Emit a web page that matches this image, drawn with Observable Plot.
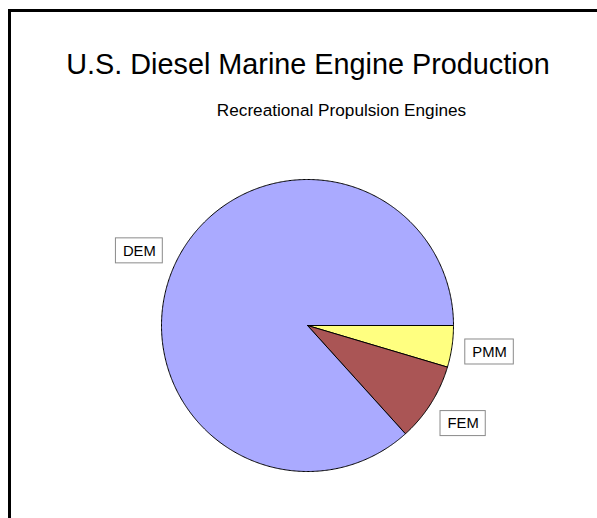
<!DOCTYPE html>
<html><head><meta charset="utf-8">
<script src="https://cdn.jsdelivr.net/npm/d3@7"></script>
<script src="https://cdn.jsdelivr.net/npm/@observablehq/plot@0.6"></script>
<style>
html,body{margin:0;padding:0;background:#fff;}
#wrap{position:relative;width:597px;height:518px;overflow:hidden;}
#border{position:absolute;left:8px;top:9px;width:700px;height:700px;border-top:3px solid #000;border-left:3px solid #000;}
#chart{position:absolute;left:0;top:0;}
</style></head><body>
<div id="wrap"><div id="border"></div><div id="chart"></div></div>
<script>
const title = "U.S. Diesel Marine Engine Production";
const subtitle = "Recreational Propulsion Engines";
const categories = ["PMM", "FEM", "DEM"];
const shares = [4.6, 8.7, 86.7];
const colors = ["#FFFF80", "#AA5555", "#AAAAFF"];

const FONT = "Arial, 'Liberation Sans', sans-serif";
const R = 146; // radius in px
const data = categories.map((name, i) => ({name, value: shares[i]}));
const arcs = d3.pie().sort(null).value(d => d.value)
  .startAngle(Math.PI / 2).endAngle(Math.PI / 2 + 2 * Math.PI)(data);

const pts = [];
for (const a of arcs) {
  const name = a.data.name;
  pts.push({name, x: 0, y: 0});
  const n = Math.max(2, Math.ceil((a.endAngle - a.startAngle) / (Math.PI / 360)));
  for (let k = 0; k <= n; k++) {
    const t = a.startAngle + (a.endAngle - a.startAngle) * k / n;
    pts.push({name, x: Math.sin(t), y: Math.cos(t)});
  }
  pts.push({name, x: 0, y: 0});
}

const ctx = document.createElement("canvas").getContext("2d");
ctx.font = "14.8px Arial, 'Liberation Sans', sans-serif";
const labelR = 1.26;
const labels = arcs.map(a => {
  const m = (a.startAngle + a.endAngle) / 2;
  const lx = labelR * Math.sin(m), ly = labelR * Math.cos(m);
  const hw = (ctx.measureText(a.data.name).width / 2 + 7) / R;
  const hh = 12.5 / R;
  return {name: a.data.name, lx, ly, x1: lx - hw, x2: lx + hw, y1: ly - hh, y2: ly + hh};
});

const plot = Plot.plot({
  width: 597, height: 518,
  marginTop: 0, marginRight: 0, marginBottom: 0, marginLeft: 0,
  x: {domain: [-1, 1], range: [307 - R, 307 + R], axis: null},
  y: {domain: [-1, 1], range: [325 + R, 325 - R], axis: null},
  color: {domain: categories, range: colors},
  style: {fontFamily: FONT, background: "transparent", overflow: "visible"},
  marks: [
    Plot.line(pts, {x: "x", y: "y", z: "name", fill: "name", stroke: "#000", strokeWidth: 1, curve: "linear", strokeLinejoin: "round"}),
    Plot.rect(labels, {x1: "x1", x2: "x2", y1: "y1", y2: "y2", fill: "#fff", stroke: "#8a8a8a", strokeWidth: 1}),
    Plot.text(labels, {x: "lx", y: "ly", text: "name", fontSize: 14.8, fill: "#000", textAnchor: "middle", lineAnchor: "middle"}),
    Plot.text([title], {frameAnchor: "top-left", dx: 307.5, dy: 64, text: d => d, fontSize: 28.8, fill: "#000", textAnchor: "middle", lineAnchor: "middle"}),
    Plot.text([subtitle], {frameAnchor: "top-left", dx: 341, dy: 109.5, text: d => d, fontSize: 17.2, fill: "#000", textAnchor: "middle", lineAnchor: "middle"})
  ]
});
document.getElementById("chart").appendChild(plot);
</script>
</body></html>
